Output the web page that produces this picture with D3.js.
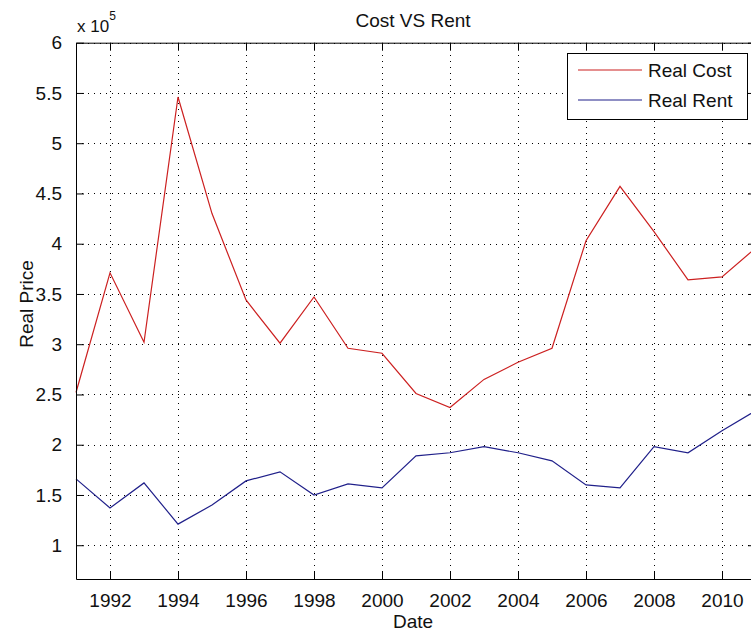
<!DOCTYPE html>
<html>
<head>
<meta charset="utf-8">
<script src="https://cdn.jsdelivr.net/npm/d3@7"></script>
<style>
  body { margin: 0; background: #fff; }
  text { font-family: "Liberation Sans", Arial, sans-serif; fill: #111; }
</style>
</head>
<body>
<div id="chart"></div>
<script>
// data, in units of 10^5
const years = [1991,1992,1993,1994,1995,1996,1997,1998,1999,2000,2001,2002,2003,2004,2005,2006,2007,2008,2009,2010,2011];
const realCost = [2.52,3.71,3.02,5.46,4.30,3.44,3.01,3.47,2.96,2.91,2.51,2.37,2.65,2.82,2.96,4.03,4.57,4.12,3.64,3.67,3.96];
const realRent = [1.66,1.37,1.62,1.21,1.40,1.64,1.73,1.50,1.61,1.57,1.89,1.92,1.98,1.92,1.84,1.60,1.57,1.98,1.92,2.14,2.34];
const xTicks = [1992,1994,1996,1998,2000,2002,2004,2006,2008,2010];
const yTicks = [1,1.5,2,2.5,3,3.5,4,4.5,5,5.5,6];
const seriesNames = ["Real Cost", "Real Rent"];
const seriesColors = ["#cc2020", "#20208a"];

const W = 751, H = 635;
const plot = {left: 76, right: 756, top: 42.7, bottom: 579};
const tickLen = 8;

const svg = d3.select("#chart").append("svg")
    .attr("width", W).attr("height", H)
    .style("display", "block");

const x = d3.scaleLinear().domain([1991, 2011]).range([plot.left, plot.right]);
const y = d3.scaleLinear().domain([0.664, 6]).range([plot.bottom, plot.top]);

// grid
const grid = svg.append("g")
    .attr("stroke", "#000").attr("stroke-width", 1)
    .attr("stroke-dasharray", "1,5").attr("shape-rendering", "crispEdges");
grid.selectAll(".vg").data(xTicks).enter().append("line")
    .attr("x1", d => Math.round(x(d)) + 0.5).attr("x2", d => Math.round(x(d)) + 0.5)
    .attr("y1", plot.top).attr("y2", plot.bottom);
grid.selectAll(".hg").data(yTicks).enter().append("line")
    .attr("x1", plot.left).attr("x2", plot.right)
    .attr("y1", d => Math.round(y(d)) + 0.5).attr("y2", d => Math.round(y(d)) + 0.5);

// series
const line = d3.line().x((d, i) => x(years[i])).y(d => y(d));
[realCost, realRent].forEach((s, k) => {
  svg.append("path").datum(s)
    .attr("d", line)
    .attr("fill", "none")
    .attr("stroke", seriesColors[k])
    .attr("stroke-width", 1.2);
});

// axes (ticks inward on all four sides)
const bottomAxis = d3.axisBottom(x).tickValues(xTicks).tickFormat(d3.format("d"))
    .tickSizeInner(-tickLen).tickSizeOuter(0).tickPadding(tickLen + 7);
const topAxis = d3.axisTop(x).tickValues(xTicks).tickFormat("")
    .tickSizeInner(-tickLen).tickSizeOuter(0);
const leftAxis = d3.axisLeft(y).tickValues(yTicks).tickFormat(d => String(d))
    .tickSizeInner(-tickLen).tickSizeOuter(0).tickPadding(tickLen + 6);
const rightAxis = d3.axisRight(y).tickValues(yTicks).tickFormat("")
    .tickSizeInner(-tickLen).tickSizeOuter(0);

function styleAxis(g) {
  g.select(".domain").attr("stroke", "#000");
  g.selectAll(".tick line").attr("stroke", "#000");
  g.selectAll("text").style("font-size", "19px")
    .style("font-family", "'Liberation Sans', Arial, sans-serif").attr("fill", "#111");
}
svg.append("g").attr("transform", `translate(0,${plot.bottom})`).call(bottomAxis).call(styleAxis);
svg.append("g").attr("transform", `translate(0,${plot.top})`).call(topAxis).call(styleAxis);
svg.append("g").attr("transform", `translate(${plot.left},0)`).call(leftAxis).call(styleAxis);
svg.append("g").attr("transform", `translate(${plot.right},0)`).call(rightAxis).call(styleAxis);

// exponent label
const ex = svg.append("text").attr("x", plot.left + 1).attr("y", 32).style("font-size", "17px");
ex.append("tspan").text("x 10");
ex.append("tspan").attr("dy", -12).style("font-size", "12px").text("5");

// titles
svg.append("text").attr("x", 413).attr("y", 27).attr("text-anchor", "middle")
    .style("font-size", "19px").text("Cost VS Rent");
svg.append("text").attr("x", 413).attr("y", 628).attr("text-anchor", "middle")
    .style("font-size", "19px").text("Date");
svg.append("text").attr("transform", "translate(33,304) rotate(-90)")
    .attr("text-anchor", "middle").style("font-size", "19px").text("Real Price");

// legend
const lg = {x: 567, y: 53, w: 180, h: 66};
const legend = svg.append("g");
legend.append("rect").attr("x", lg.x + 0.5).attr("y", lg.y + 0.5)
    .attr("width", lg.w).attr("height", lg.h)
    .attr("fill", "#fff").attr("stroke", "#000");
seriesNames.forEach((name, i) => {
  const cy = lg.y + 17 + i * 30;
  legend.append("line").attr("x1", lg.x + 11).attr("x2", lg.x + 75)
      .attr("y1", cy).attr("y2", cy)
      .attr("stroke", seriesColors[i]).attr("stroke-width", 1.2);
  legend.append("text").attr("x", lg.x + 81).attr("y", cy + 7)
      .style("font-size", "19px").text(name);
});
</script>
</body>
</html>
